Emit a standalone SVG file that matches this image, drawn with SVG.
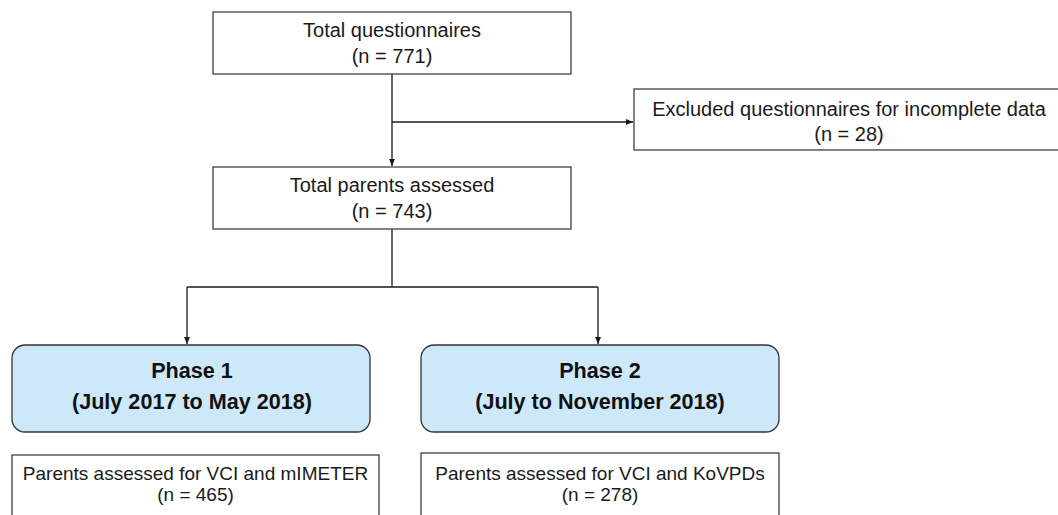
<svg xmlns="http://www.w3.org/2000/svg" width="1058" height="515" viewBox="0 0 1058 515">
<style>
.box{fill:#fff;stroke:#404040;stroke-width:1.3}
.phase{fill:#cde8f8;stroke:#333;stroke-width:1.3}
.t{font-family:"Liberation Sans",Arial,sans-serif;font-size:20px;fill:#1a1a1a;text-anchor:middle}
.s{font-size:19px}
.b{font-family:"Liberation Sans",Arial,sans-serif;font-size:21.6px;font-weight:bold;fill:#111;text-anchor:middle}
.c{fill:none;stroke:#1a1a1a;stroke-width:1.3}
</style>
<defs>
<marker id="ah" markerWidth="8" markerHeight="8" refX="7" refY="4" orient="auto" markerUnits="userSpaceOnUse">
<path d="M0,1 L7,4 L0,7 Z" fill="#1a1a1a"/>
</marker>
</defs>
<rect width="1058" height="515" fill="#fff"/>
<g id="connectors">
<path class="c" d="M392,74 V166" marker-end="url(#ah)"/>
<path class="c" d="M392,122 H633" marker-end="url(#ah)"/>
<path class="c" d="M392,229 V287"/>
<path class="c" d="M187,287 H598"/>
<path class="c" d="M187,287 V344" marker-end="url(#ah)"/>
<path class="c" d="M598,287 V344" marker-end="url(#ah)"/>
</g>
<g id="total-questionnaires">
<rect class="box" x="213" y="12" width="358" height="62"/>
<text class="t" x="392" y="37">Total questionnaires</text>
<text class="t" x="392" y="63">(n = 771)</text>
</g>
<g id="excluded">
<rect class="box" x="634" y="89" width="426" height="61"/>
<text class="t" x="849" y="116">Excluded questionnaires for incomplete data</text>
<text class="t" x="849" y="141">(n = 28)</text>
</g>
<g id="total-parents">
<rect class="box" x="213" y="167" width="358" height="62"/>
<text class="t" x="392" y="192">Total parents assessed</text>
<text class="t" x="392" y="218">(n = 743)</text>
</g>
<g id="phase1">
<rect class="phase" x="12" y="345" width="358" height="87" rx="13"/>
<text class="b" x="192" y="378">Phase 1</text>
<text class="b" x="192" y="409">(July 2017 to May 2018)</text>
</g>
<g id="phase2">
<rect class="phase" x="421" y="345" width="358" height="87" rx="13"/>
<text class="b" x="600" y="378">Phase 2</text>
<text class="b" x="600" y="409">(July to November 2018)</text>
</g>
<g id="parents-mimeter">
<rect class="box" x="12" y="455" width="367" height="70"/>
<text class="t s" x="195.5" y="480">Parents assessed for VCI and mIMETER</text>
<text class="t s" x="195.5" y="501">(n = 465)</text>
</g>
<g id="parents-kovpds">
<rect class="box" x="421" y="453" width="358" height="72"/>
<text class="t s" x="600" y="480">Parents assessed for VCI and KoVPDs</text>
<text class="t s" x="600" y="501">(n = 278)</text>
</g>
</svg>
